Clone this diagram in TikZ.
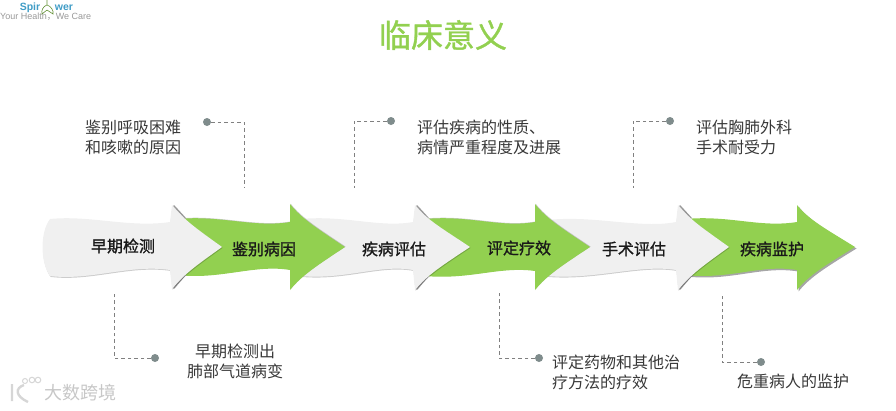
\documentclass[tikz,border=0pt]{standalone}
\usepackage{fontspec}
\setmainfont{Noto Sans CJK SC}
\newfontfamily\latinfont{Liberation Sans}
\newfontfamily\stepfont[FakeBold=1.2]{Noto Sans CJK SC}
\usetikzlibrary{shadows}
\definecolor{leafgreen}{HTML}{92D050}
\definecolor{palegray}{HTML}{F0F0F0}
\definecolor{dotgray}{HTML}{7F8C8C}
\definecolor{logoblue}{HTML}{3F9CC6}
\tikzset{
  graybody/.style={fill=palegray,drop shadow={shadow xshift=.6pt,shadow yshift=-.9pt,fill=black,opacity=.2}},
  greenbody/.style={fill=leafgreen,drop shadow={shadow xshift=.5pt,shadow yshift=.5pt,fill=black,opacity=.2}},
  greenshade/.style={fill=leafgreen,drop shadow={shadow xshift=1.5pt,shadow yshift=-1.5pt,fill=black,opacity=.35}},
  cornershade/.style={black!40,line width=1.5pt,line cap=round},
  steptext/.style={font=\fontsize{16pt}{16pt}\stepfont,text=black!90},
  notetext/.style={font=\fontsize{16pt}{20pt}\selectfont,text=black!78,inner sep=0pt},
  dot/.style={circle,fill=dotgray,inner sep=0pt,minimum size=8pt},
  leader/.style={dashed,dash pattern=on 3.5pt off 3pt,gray,line width=.7pt}
}
\begin{document}
\begin{tikzpicture}[x=1pt,y=-1pt]
\useasboundingbox (0,0) rectangle (896,410);
% arrows, last one first
\draw[greenshade,draw=none](685,219).. controls (730,215) and (760,228) .. (797,222)--(797,205).. controls +(12,15) and +(-29,-18) .. (855,247).. controls +(-29,18) and +(12,-15) .. (797,290)--(797,270).. controls (760,264) and (730,280) .. (685,275)--(722,247)--cycle;
\draw[cornershade](680,206)--(691,218)(680,289)--(691,276);
\draw[graybody,draw=none](547,220).. controls (595,215) and (640,229) .. (676,222)--(678,205).. controls +(12,15) and +(-25,-18) .. (729,247).. controls +(-25,18) and +(12,-15) .. (678,290)--(676,270).. controls (640,264) and (595,280) .. (547,276)--(582,247)--cycle;
\draw[greenbody,draw=none](425,219).. controls (470,215) and (500,228) .. (535,222)--(535,204).. controls +(12,15) and +(-27,-18) .. (590,247).. controls +(-27,18) and +(12,-15) .. (535,290)--(535,271).. controls (500,266) and (470,280) .. (425,276)--(462,247)--cycle;
\draw[cornershade](417,206)--(428,218)(417,289)--(428,276);
\draw[graybody,draw=none](301,219).. controls (345,215) and (380,228) .. (413,222)--(415,205).. controls +(12,15) and +(-27,-18) .. (470,247).. controls +(-27,18) and +(12,-15) .. (415,290)--(413,270).. controls (380,264) and (345,280) .. (301,276)--(338,247)--cycle;
\draw[greenbody,draw=none](178,219).. controls (220,215) and (255,228) .. (290,222)--(290,204).. controls +(12,15) and +(-27,-18) .. (345,247).. controls +(-27,18) and +(12,-15) .. (290,290)--(290,270).. controls (255,264) and (220,280) .. (178,275)--(215,247)--cycle;
\draw[cornershade](174,206)--(185,218)(174,288)--(185,275);
\draw[graybody,draw=none](50,219).. controls (90,215) and (130,228) .. (170,222)--(172,205).. controls +(12,15) and +(-25,-18) .. (222,247).. controls +(-25,18) and +(12,-15) .. (172,289)--(170,270).. controls (130,264) and (90,281) .. (50,276).. controls (40,262) and (40,232) .. (50,219)--cycle;
% arrow labels
\node[steptext] (early) at (123,246){早期检测};
\node[steptext] (cause) at (264,249){鉴别病因};
\node[steptext] (grade) at (394,249){疾病评估};
\node[steptext] (effect) at (519,248){评定疗效};
\node[steptext] (surgery) at (634,249){手术评估};
\node[steptext] (watch) at (772,249){疾病监护};
% notes
\node[notetext,align=left] (causenote) at (133,137){鉴别呼吸困难\\和咳嗽的原因};
\node[notetext,align=left,anchor=west] (gradenote) at (417,137){评估疾病的性质、\\病情严重程度及进展};
\node[notetext,align=left,anchor=west] (surgerynote) at (696,137){评估胸肺外科\\手术耐受力};
\node[notetext,align=center] (earlynote) at (235,361){早期检测出\\肺部气道病变};
\node[notetext,align=left,anchor=west] (effectnote) at (552,372){评定药物和其他治\\疗方法的疗效};
\node[notetext] (watchnote) at (793,381){危重病人的监护};
% dots and leaders
\node[dot] (causedot) at (207,122){};
\node[dot] (gradedot) at (391,121){};
\node[dot] (surgerydot) at (670,121){};
\node[dot] (earlydot) at (155,358){};
\node[dot] (effectdot) at (539,358){};
\node[dot] (watchdot) at (761,362){};
\coordinate (causeend) at (244,188);
\coordinate (gradeend) at (354,188);
\coordinate (surgeryend) at (633,188);
\coordinate (earlyend) at (114,291);
\coordinate (effectend) at (499,291);
\coordinate (watchend) at (722,295);
\draw[leader](causedot)-|(causeend);
\draw[leader](gradedot)-|(gradeend);
\draw[leader](surgerydot)-|(surgeryend);
\draw[leader](earlydot)-|(earlyend);
\draw[leader](effectdot)-|(effectend);
\draw[leader](watchdot)-|(watchend);
% title
\node[text=leafgreen,font=\fontsize{32pt}{32pt}\stepfont] (title) at (443,35){临床意义};
% logo
\node[text=logoblue,font=\latinfont\fontsize{10.5pt}{10pt}\selectfont\bfseries,inner sep=0pt] (logoleft) at (30,8){Spir};
\node[text=logoblue,font=\latinfont\fontsize{10.5pt}{10pt}\selectfont\bfseries,inner sep=0pt] (logoright) at (64,8){wer};
\node[text=black!40,font=\latinfont\fontsize{9pt}{10pt}\selectfont,inner sep=0pt,anchor=west] (slogan) at (0,17){Your Health{\rmfamily ，}We Care};
\draw[leafgreen!70!black,line width=.6pt](47,0)--(47,5)(47,5).. controls (43,6) and (41,11) .. (42,14)--(47,10)(47,5).. controls (51,6) and (54,11) .. (53,14)--(47,10);
% watermark
\node[text=black!22,font=\fontsize{18pt}{18pt}\selectfont,inner sep=0pt] (mark) at (80,393){大数跨境};
\draw[black!16,line width=2.4pt](12,384)--(12,401)(24,385).. controls (15,388) and (15,396) .. (28,402);
\draw[black!16,line width=1pt](25,381) circle (2.5)(32,380) circle (2.8)(38,380) circle (2.8);
\end{tikzpicture}
\end{document}
